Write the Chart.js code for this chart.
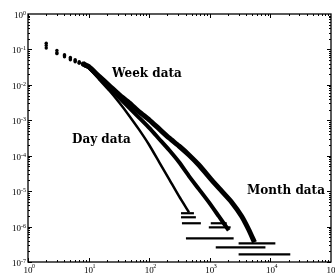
<!DOCTYPE html>
<html>
<head>
<meta charset="utf-8">
<script src="https://cdn.jsdelivr.net/npm/chart.js@4.4.1/dist/chart.umd.min.js"></script>
<style>
  html, body { margin: 0; padding: 0; background: #fff; }
  #wrap { width: 335px; height: 277px; }
</style>
</head>
<body>
<div id="wrap"><canvas id="chart" width="335" height="277"></canvas></div>
<script>
// values
const dayX = [2, 3, 4, 5, 6, 7, 8, 9, 10, 15.1, 22.1, 32.2, 47, 68.6, 100, 146, 213, 310, 453];
const dayY = [0.11, 0.076, 0.062, 0.051, 0.045, 0.041, 0.037, 0.033, 0.030,
  0.0139, 0.0068, 0.00311, 0.00133, 5.35e-4, 2.01e-4, 6.63e-5, 2.19e-5, 7.2e-6, 2.54e-6];

const weekX = [2, 3, 4, 5, 6, 7, 8, 9, 10, 15.1, 22.1, 32.2, 47, 68.6, 100, 146, 213, 310, 453, 661, 963, 1405, 2048];
const weekY = [0.13, 0.081, 0.067, 0.055, 0.048, 0.042, 0.038, 0.034, 0.032,
  0.0159, 0.00828, 0.00431, 0.00225, 0.00117, 6.09e-4, 2.97e-4, 1.45e-4, 6.63e-5, 2.66e-5,
  1.14e-5, 4.88e-6, 1.96e-6, 7.85e-7];

const monthX = [2, 3, 4, 5, 6, 7, 8, 9, 10, 15.1, 22.1, 32.2, 47, 68.6, 100, 146, 213, 310, 453, 661,
  1079, 1573, 2294, 3350, 4357, 5470];
const monthY = [0.15, 0.093, 0.071, 0.059, 0.051, 0.045, 0.041, 0.036, 0.033,
  0.0170, 0.00944, 0.00525, 0.00311, 0.00173, 0.00103, 5.70e-4, 3.17e-4, 1.88e-4, 1.05e-4,
  5.46e-5, 2.05e-5, 1.0e-5, 4.88e-6, 1.96e-6, 8.4e-7, 3.59e-7];

// runs of single counts at the tail: [x from, x to, y]
const dayFloors = [[335, 547, 2.38e-6], [335, 589, 1.83e-6], [347, 712, 1.24e-6]];
const weekFloors = [[1038, 1900, 1.24e-6], [963, 2208, 9.5e-7], [404, 2474, 4.67e-7]];
const monthFloors = [[2988, 12070, 3.37e-7], [1254, 8280, 2.59e-7], [2988, 21280, 1.64e-7]];

const xTicks = [1, 10, 100, 1000, 10000, 100000];
const xTickExp = ["0", "1", "2", "3", "4", "5"];
const yTicks = [1, 1e-1, 1e-2, 1e-3, 1e-4, 1e-5, 1e-6, 1e-7];
const yTickExp = ["0", "-1", "-2", "-3", "-4", "-5", "-6", "-7"];

const seriesNames = ["Day data", "Week data", "Month data"];

function curve(xs, ys, w) {
  return {
    data: xs.map((x, i) => ({ x: x, y: ys[i] })),
    showLine: true,
    borderColor: "#000",
    backgroundColor: "#000",
    borderWidth: w,
    tension: 0.2,
    pointRadius: ctx => (ctx.raw && ctx.raw.x <= 8 ? 1.7 : 0),
    pointBorderWidth: 0,
    segment: {
      borderColor: ctx => (ctx.p0.parsed.x < 8 ? "rgba(0,0,0,0)" : "#000")
    }
  };
}

function floors(list) {
  return list.map(f => ({
    data: [{ x: f[0], y: f[2] }, { x: f[1], y: f[2] }],
    showLine: true,
    borderColor: "#000",
    borderWidth: 2.2,
    pointRadius: 0
  }));
}

// frame, inward ticks, tick labels and the curve names
const framePlugin = {
  id: "frame",
  afterDraw(chart) {
    const { ctx, chartArea: a, scales: { x, y } } = chart;
    ctx.save();
    ctx.strokeStyle = "#000";
    ctx.lineWidth = 1.3;
    ctx.strokeRect(a.left, a.top, a.right - a.left, a.bottom - a.top);
    ctx.lineWidth = 1;
    ctx.beginPath();
    for (let e = 0; e < 5; e++) {
      for (let m = 1; m < 10; m++) {
        const px = Math.round(x.getPixelForValue(m * 10 ** e)) + 0.5;
        const len = m === 1 ? 4 : 2;
        ctx.moveTo(px, a.bottom); ctx.lineTo(px, a.bottom - len);
        ctx.moveTo(px, a.top); ctx.lineTo(px, a.top + len);
      }
    }
    for (let e = -7; e < 0; e++) {
      for (let m = 1; m < 10; m++) {
        const py = Math.round(y.getPixelForValue(m * 10 ** e)) + 0.5;
        const len = m === 1 ? 4 : 2;
        ctx.moveTo(a.left, py); ctx.lineTo(a.left + len, py);
        ctx.moveTo(a.right, py); ctx.lineTo(a.right - len, py);
      }
    }
    ctx.stroke();

    ctx.fillStyle = "#000";
    ctx.textBaseline = "alphabetic";
    xTicks.forEach((v, i) => {
      const px = x.getPixelForValue(v);
      ctx.font = "9px 'Liberation Serif'";
      ctx.textAlign = "center";
      ctx.fillText("10", px, a.bottom + 11);
      ctx.font = "6px 'Liberation Serif'";
      ctx.textAlign = "left";
      ctx.fillText(xTickExp[i], px + 4, a.bottom + 6);
    });
    yTicks.forEach((v, i) => {
      const py = y.getPixelForValue(v);
      ctx.font = "6px 'Liberation Serif'";
      ctx.textAlign = "left";
      const ew = ctx.measureText(yTickExp[i]).width;
      const ex = a.left - 2 - ew;
      ctx.fillText(yTickExp[i], ex, py + 1);
      ctx.font = "9px 'Liberation Serif'";
      ctx.textAlign = "right";
      ctx.fillText("10", ex, py + 4);
    });

    ctx.font = "bold 12px 'DejaVu Serif'";
    ctx.textAlign = "left";
    ctx.textBaseline = "middle";
    ctx.fillText(seriesNames[1], a.left + 84, a.top + 60);
    ctx.fillText(seriesNames[0], a.left + 44, a.top + 126);
    ctx.fillText(seriesNames[2], a.left + 219, a.top + 177);
    ctx.restore();
  }
};

new Chart(document.getElementById("chart"), {
  type: "scatter",
  data: {
    datasets: [
      curve(dayX, dayY, 2.5),
      curve(weekX, weekY, 4),
      curve(monthX, monthY, 5),
      ...floors(dayFloors),
      ...floors(weekFloors),
      ...floors(monthFloors)
    ]
  },
  options: {
    responsive: false,
    animation: false,
    layout: { padding: { left: 28, top: 14, right: 3, bottom: 15 } },
    plugins: { legend: { display: false }, tooltip: { enabled: false } },
    scales: {
      x: { type: "logarithmic", min: 1, max: 100000, display: false },
      y: { type: "logarithmic", min: 1e-7, max: 1, display: false }
    }
  },
  plugins: [framePlugin]
});
</script>
</body>
</html>
